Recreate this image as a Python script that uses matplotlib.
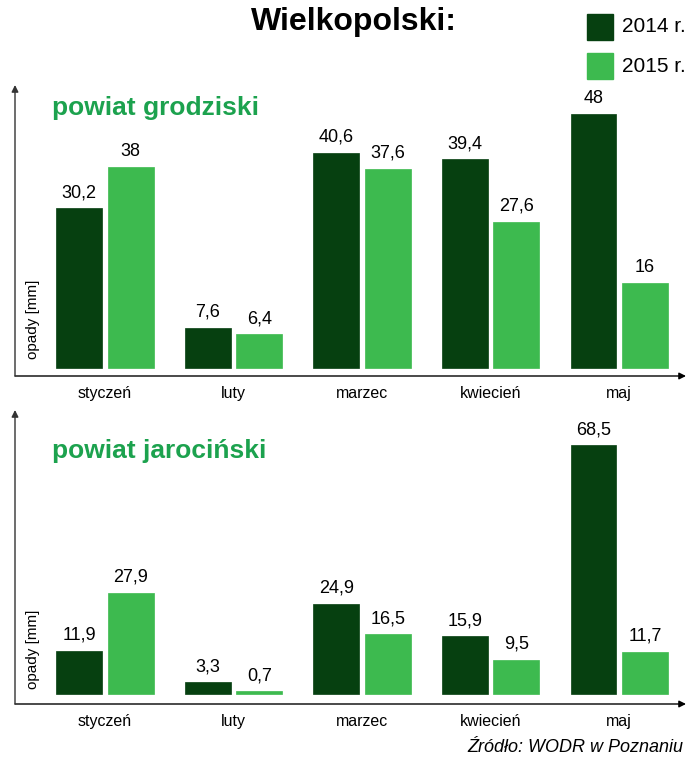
import matplotlib
matplotlib.use("Agg")
import matplotlib.pyplot as plt
import numpy as np

plt.rcParams['font.family'] = ['Liberation Sans', 'DejaVu Sans']

months = ['styczeń', 'luty', 'marzec', 'kwiecień', 'maj']
years = ['2014 r.', '2015 r.']
grodziski_2014 = [30.2, 7.6, 40.6, 39.4, 48]
grodziski_2015 = [38, 6.4, 37.6, 27.6, 16]
jarocinski_2014 = [11.9, 3.3, 24.9, 15.9, 68.5]
jarocinski_2015 = [27.9, 0.7, 16.5, 9.5, 11.7]

DARK = '#064010'
LIGHT = '#3dba4f'
TITLE_GREEN = '#1ca24e'

W, H = 686, 757
fig = plt.figure(figsize=(W / 100, H / 100), dpi=100)


def px_axes(x0, y0, x1, y1):
    # pixel box (top-left origin) -> axes
    return fig.add_axes([x0 / W, 1 - y1 / H, (x1 - x0) / W, (y1 - y0) / H])


def fmt(v):
    return ('%g' % v).replace('.', ',')


def panel(ax, title, s14, s15, ylim, ylab_y):
    x = np.arange(len(months))
    w = 0.357
    b1 = ax.bar(x - 0.2, s14, w, color=DARK, edgecolor=DARK, linewidth=0.5)
    b2 = ax.bar(x + 0.2, s15, w, color=LIGHT, edgecolor=LIGHT, linewidth=0.5)
    for bars, vals in ((b1, s14), (b2, s15)):
        for r, v in zip(bars, vals):
            ax.annotate(fmt(v), (r.get_x() + r.get_width() / 2, v),
                        xytext=(0, 5), textcoords='offset points',
                        ha='center', va='bottom', fontsize=13)
    ax.set_xlim(-0.70, 4.52)
    ax.set_ylim(*ylim)
    for s in ax.spines.values():
        s.set_visible(False)
    ax.set_yticks([])
    ax.set_xticks(x)
    ax.set_xticklabels(months, fontsize=11.5)
    ax.tick_params(axis='x', length=0, pad=7)
    # axis arrows
    ax.annotate('', xy=(1.0, 0), xytext=(0, 0), xycoords='axes fraction',
                arrowprops=dict(arrowstyle='-|>', color='black', lw=1,
                                mutation_scale=10, shrinkA=0, shrinkB=0),
                annotation_clip=False)
    ax.annotate('', xy=(0, 1.0), xytext=(0, 0), xycoords='axes fraction',
                arrowprops=dict(arrowstyle='-|>', color='#333333', lw=1,
                                mutation_scale=10, shrinkA=0, shrinkB=0),
                annotation_clip=False)
    ax.text(0.055, title[1], title[0], transform=ax.transAxes,
            fontsize=19, fontweight='bold', color=TITLE_GREEN,
            ha='left', va='center')
    ax.text(0.027, ylab_y, 'opady [mm]', transform=ax.transAxes,
            rotation=90, fontsize=11, ha='center', va='center')


ax1 = px_axes(15, 85, 686, 376)
panel(ax1, ('powiat grodziski', 0.92), grodziski_2014, grodziski_2015,
      (-1.5, 53.4), 0.196)

ax2 = px_axes(15, 410, 686, 704)
panel(ax2, ('powiat jarociński', 0.86), jarocinski_2014, jarocinski_2015,
      (-2.75, 78.2), 0.187)

fig.text(354 / W, 1 - 22 / H, 'Wielkopolski:', fontsize=23, fontweight='bold',
         ha='center', va='center')

# legend squares
for i, (lab, c) in enumerate(zip(years, [DARK, LIGHT])):
    yc = 27 + i * 39
    fig.patches.append(plt.Rectangle((587 / W, 1 - (yc + 13) / H), 26 / W, 26 / H,
                                     transform=fig.transFigure, color=c))
    fig.text(622 / W, 1 - yc / H, lab, fontsize=15, ha='left', va='center')

fig.text(467 / W, 1 - 748 / H, 'Źródło: WODR w Poznaniu', fontsize=13,
         style='italic', ha='left', va='center')

fig.savefig('out.png', dpi=100)
